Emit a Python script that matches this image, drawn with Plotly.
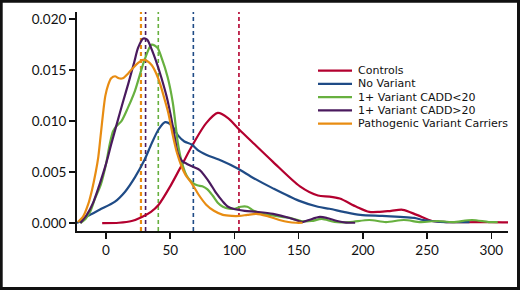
import plotly.graph_objects as go

# ---- data ----
series_names = ["Controls", "No Variant", "1+ Variant CADD<20", "1+ Variant CADD>20", "Pathogenic Variant Carriers"]
series_colors = ["#B3002F", "#1F4B86", "#67B03F", "#4A1A5E", "#E88C12"]
medians = [103.5, 68, 40.7, 30.8, 27.2]

controls_x = [-3, 10, 20, 28, 35, 41, 50, 59, 68, 78, 87, 95, 103.5, 115, 130, 151, 165, 174, 182, 195, 205, 213, 222, 231, 242, 254, 265, 280, 300, 313]
controls_y = [0, 0.00003, 0.0002, 0.0006, 0.0011, 0.0018, 0.0036, 0.0057, 0.0078, 0.0098, 0.0108, 0.0103, 0.0092, 0.0078, 0.0060, 0.0036, 0.0027, 0.0026, 0.0024, 0.0016, 0.0011, 0.0011, 0.0012, 0.0013, 0.0008, 0.0002, 0.0001, 0.00008, 0.0001, 0.00006]

novar_x = [-22.6, -14, -5, 7, 15, 22.6, 30, 35.5, 41, 46, 51, 56, 61, 66.7, 72, 78, 90, 101.7, 115, 130, 150, 165, 174, 185, 198, 215, 229, 240, 247, 260, 283]
novar_y = [0, 0.0007, 0.0013, 0.0021, 0.0031, 0.0045, 0.0062, 0.0078, 0.0092, 0.0099, 0.0096, 0.0086, 0.0080, 0.0077, 0.0071, 0.0067, 0.0061, 0.0054, 0.0044, 0.0034, 0.0022, 0.0016, 0.0014, 0.0011, 0.0008, 0.0007, 0.0006, 0.0005, 0.0003, 0.00012, 0.0001]

cadd_lo_x = [-20, -16, -12, -8.6, -4, 0, 3, 5.5, 8, 12, 17, 22.6, 30, 35.5, 40, 43, 48, 52, 56, 58.5, 61.5, 64, 67, 71, 75, 79, 83, 87, 91, 96, 100, 105, 110, 115, 122, 132, 143, 152, 160, 168, 178, 190, 205, 218, 232, 245, 258, 270, 285, 298, 305]
cadd_lo_y = [0, 0.0004, 0.0012, 0.0024, 0.0038, 0.0058, 0.0078, 0.0090, 0.0095, 0.0100, 0.0113, 0.0130, 0.0160, 0.0175, 0.0172, 0.0163, 0.0143, 0.0118, 0.0078, 0.0062, 0.0050, 0.0044, 0.0040, 0.0037, 0.0036, 0.0033, 0.0027, 0.0020, 0.0016, 0.0014, 0.0014, 0.0016, 0.0016, 0.0012, 0.0009, 0.0007, 0.0005, 0.0002, 0.0002, 0.0004, 0.0001, 0.0001, 0.0003, 0.0001, 0.0003, 0.0001, 0.0002, 0.0001, 0.0003, 0.0001, 0.0001]

cadd_hi_x = [-20, -15, -10, -5, 0, 4, 9, 13, 17.4, 22, 25, 29, 32, 35, 40, 43, 47, 50, 53, 56, 59, 63, 68, 73, 77, 81, 86, 91, 95, 99, 108, 117, 130, 143, 150, 153, 158, 166.5, 172, 180, 187, 194]
cadd_hi_y = [0, 0.0008, 0.0020, 0.0038, 0.0058, 0.0077, 0.0100, 0.0118, 0.0137, 0.0158, 0.0172, 0.0181, 0.0180, 0.0172, 0.0155, 0.0143, 0.0125, 0.0108, 0.0088, 0.0068, 0.0061, 0.0058, 0.0055, 0.0052, 0.0046, 0.0039, 0.0029, 0.0021, 0.0016, 0.0014, 0.0012, 0.0011, 0.0009, 0.0005, 0.0002, 0.0001, 0.0003, 0.0006, 0.0005, 0.0002, 0.00005, 0.00003]

patho_x = [-22, -18, -14, -11, -8, -6, -4, -2, -0.5, 1.8, 4, 7, 10, 13, 17.4, 21, 25, 29, 32, 35.5, 39, 42, 45, 48.5, 52, 55, 59, 62, 66.7, 72, 78, 84, 91, 98, 104, 110, 117, 125, 135, 142, 148, 153]
patho_y = [0.0001, 0.0006, 0.0018, 0.0032, 0.0050, 0.0065, 0.0088, 0.0111, 0.0125, 0.0136, 0.0142, 0.0144, 0.0142, 0.0142, 0.0147, 0.0152, 0.0157, 0.0160, 0.0159, 0.0155, 0.0147, 0.0137, 0.0124, 0.0108, 0.0086, 0.0070, 0.0055, 0.0047, 0.0039, 0.0028, 0.0018, 0.0012, 0.0008, 0.0007, 0.0007, 0.0008, 0.0009, 0.0007, 0.0003, 0.0001, 0.00003, 0.00003]

x_ticks = [0, 50, 100, 150, 200, 250, 300]
y_ticks = [0.000, 0.005, 0.010, 0.015, 0.020]

xs = [controls_x, novar_x, cadd_lo_x, cadd_hi_x, patho_x]
ys = [controls_y, novar_y, cadd_lo_y, cadd_hi_y, patho_y]

# ---- figure ----
W, H = 520, 290
ML, MR, MT, MB = 77, 12, 12, 59
PW, PH = W - ML - MR, H - MT - MB

def px_x(p):
    return (p - ML) / PW

def px_y(p):
    return 1 - (p - MT) / PH

fig = go.Figure()
for name, col, x, y in zip(series_names, series_colors, xs, ys):
    fig.add_trace(go.Scatter(x=x, y=y, mode="lines", name=name,
                             line=dict(color=col, width=2.2, shape="spline", smoothing=0.8),
                             showlegend=False, hoverinfo="skip"))

shapes = []
for m, col in zip(medians, series_colors):
    shapes.append(dict(type="line", xref="x", yref="paper", x0=m, x1=m, y0=0, y1=1,
                       line=dict(color=col, width=1.6 if col != series_colors[-1] else 2.2, dash="4px,3px"),
                       layer="below"))

# manual legend
annotations = []
leg_y0 = 70.7
leg_step = 13.25
for i, (name, col) in enumerate(zip(series_names, series_colors)):
    yy = px_y(leg_y0 + i * leg_step)
    shapes.append(dict(type="line", xref="paper", yref="paper", x0=px_x(318), x1=px_x(352),
                       y0=yy, y1=yy, line=dict(color=col, width=2.2)))
    annotations.append(dict(xref="paper", yref="paper", x=px_x(356), y=yy, text=name,
                            showarrow=False, xanchor="left", yanchor="middle",
                            font=dict(family="DejaVu Sans, sans-serif", size=11, color="#111")))

# outer border
shapes.append(dict(type="rect", xref="paper", yref="paper",
                   x0=px_x(1.2), x1=px_x(W - 1.5), y0=px_y(1.2), y1=px_y(H - 1.5),
                   line=dict(color="#111", width=3), fillcolor="rgba(0,0,0,0)"))

fig.update_layout(
    width=W, height=H,
    margin=dict(l=ML, r=MR, t=MT, b=MB),
    paper_bgcolor="white", plot_bgcolor="white",
    font=dict(family="Lato, sans-serif", size=13, color="#111"),
    shapes=shapes, annotations=annotations,
    xaxis=dict(range=[-22.6, 313], tickvals=x_ticks, ticktext=[str(v) for v in x_ticks],
               showgrid=False, zeroline=False, showline=True, linecolor="#111", linewidth=2,
               ticks="outside", ticklen=6, tickwidth=1.5, tickcolor="#111",
               tickfont=dict(size=13.5)),
    yaxis=dict(range=[-0.00078, 0.0207], tickvals=y_ticks, tickformat=".3f",
               showgrid=False, zeroline=False, showline=True, linecolor="#111", linewidth=2,
               ticks="outside", ticklen=6, tickwidth=1.5, tickcolor="#111",
               tickfont=dict(size=13.5)),
)

fig.write_html("out.html", config={"displayModeBar": False, "staticPlot": True},
               post_script="document.body.style.margin='0';document.body.style.padding='0';")
